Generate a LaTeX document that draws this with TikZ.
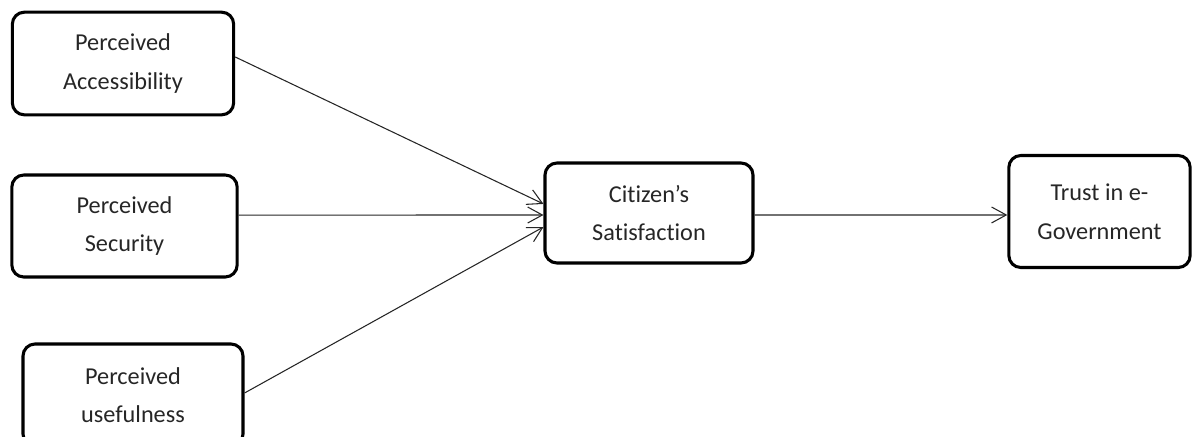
\documentclass[tikz,border=0pt]{standalone}
\usepackage{fontspec}
\setmainfont{Carlito}[Ligatures=NoCommon]
\usetikzlibrary{arrows.meta}
\begin{document}
\begin{tikzpicture}[x=0.75pt, y=-0.75pt, font=\fontsize{18.2}{29}\selectfont]
    \tikzstyle{factor} = [rectangle, rounded corners=9pt, line width=2.3pt, draw=black, align=center, inner sep=0pt, text=black!85]
    \tikzstyle{link} = [-{Straight Barb[length=11pt, width=12pt]}, line width=0.8pt, black!85]
    \clip (0,0) rectangle (1192,436);

    % Perceived factors
    \node [factor, minimum width=166pt, minimum height=77pt] (access) at (123,63.5) {Perceived\\Accessibility};
    \node [factor, minimum width=169pt, minimum height=76.5pt] (secur) at (124.5,226) {Perceived\\Security};
    \node [factor, minimum width=165pt, minimum height=76.5pt] (useful) at (133,395) {Perceived\\usefulness};

    % Outcomes
    \node [factor, minimum width=156pt, minimum height=75pt] (satis) at (649,213) {Citizen’s\\Satisfaction};
    \node [factor, minimum width=136pt, minimum height=84pt] (trust) at (1099.5,211.5) {Trust in e-\\Government};

    % Connections
    \draw [link] ([yshift=4.9pt]access.east) -- ([yshift=6.8pt]satis.west);
    \draw [link] ([yshift=8.2pt]secur.east) -- ([yshift=-1.5pt]satis.west);
    \draw [link] ([yshift=1.5pt]useful.east) -- ([yshift=-10.5pt]satis.west);
    \draw [link] ([yshift=-1.5pt]satis.east) -- ([yshift=-2.6pt]trust.west);
\end{tikzpicture}
\end{document}
